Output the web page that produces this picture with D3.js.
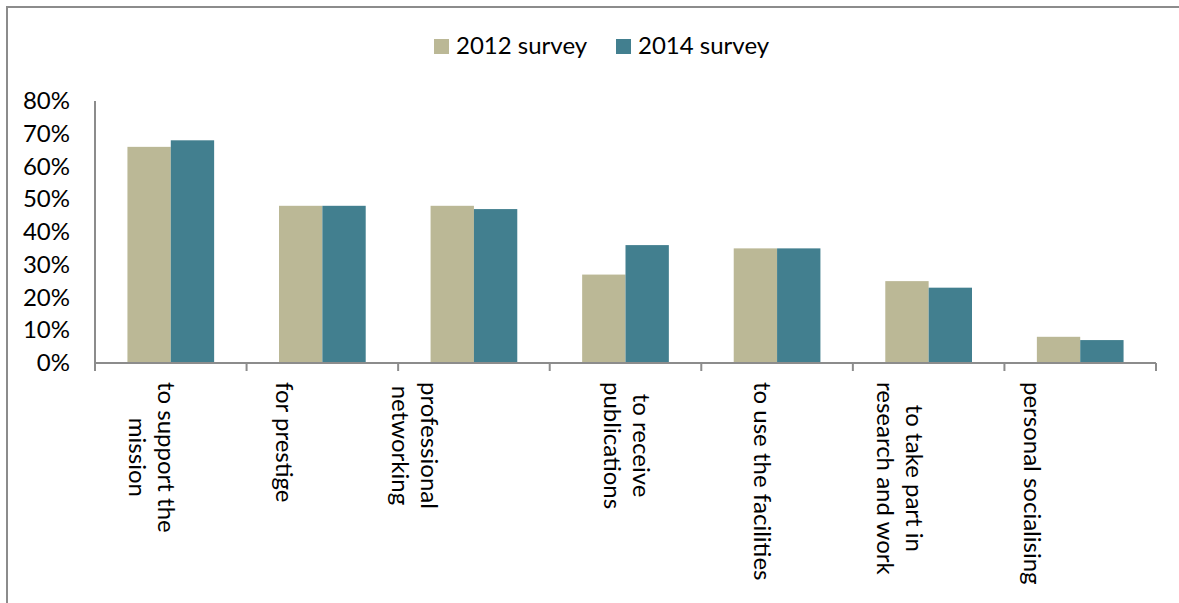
<!DOCTYPE html>
<html>
<head>
<meta charset="utf-8">
<script src="https://cdn.jsdelivr.net/npm/d3@7"></script>
<style>
  body { margin: 0; background: #fff; }
  svg text { font-family: Lato, "Open Sans", sans-serif; fill: #000; }
</style>
</head>
<body>
<svg id="chart"></svg>
<script>
// data
var categories = [
  ["to support the", "mission"],
  ["for prestige"],
  ["professional", "networking"],
  ["to receive", "publications"],
  ["to use the facilities"],
  ["to take part in", "research and work"],
  ["personal socialising"]
];
var seriesNames = ["2012 survey", "2014 survey"];
var survey2012 = [0.66, 0.48, 0.48, 0.27, 0.35, 0.25, 0.08];
var survey2014 = [0.68, 0.48, 0.47, 0.36, 0.35, 0.23, 0.07];
var yTicks = [0, 0.1, 0.2, 0.3, 0.4, 0.5, 0.6, 0.7, 0.8];

var colors = ["#bbb896", "#427f8f"];
// label nudges (px from band centre), excel puts them a bit off
var labelShift = [-18, -37, -58, 2, -14, -28, -47];

var width = 1179, height = 603;
var margin = {left: 95, right: 23, top: 101, bottom: 240};
var fontSize = 24;

var svg = d3.select("#chart")
    .attr("width", width)
    .attr("height", height);

// outer frame
svg.append("rect")
    .attr("x", 7).attr("y", 7)
    .attr("width", width + 20).attr("height", height + 20)
    .attr("fill", "none")
    .attr("stroke", "#8c8c8c")
    .attr("stroke-width", 2);

var x0 = d3.scaleBand()
    .domain(d3.range(categories.length))
    .range([margin.left, width - margin.right])
    .paddingInner(0.428)
    .paddingOuter(0.214);

var x1 = d3.scaleBand()
    .domain([0, 1])
    .range([0, x0.bandwidth()]);

var y = d3.scaleLinear()
    .domain([0, 0.8])
    .range([height - margin.bottom, margin.top]);

var baseY = y(0);

// bars
var values = [survey2012, survey2014];
values.forEach(function(vals, s) {
    svg.append("g").selectAll("rect")
        .data(vals)
        .enter()
        .append("rect")
        .attr("x", function(d, i) { return x0(i) + x1(s); })
        .attr("y", function(d) { return y(d); })
        .attr("width", x1.bandwidth())
        .attr("height", function(d) { return baseY - y(d); })
        .attr("fill", colors[s]);
});

// y axis
var yAxis = svg.append("g")
    .attr("transform", "translate(" + margin.left + ",0)")
    .call(d3.axisLeft(y).tickValues(yTicks).tickFormat(d3.format(".0%")).tickSize(0).tickPadding(25));
yAxis.select(".domain").remove();
yAxis.selectAll("text")
    .style("font-size", fontSize + "px")
    .style("font-family", "Lato, sans-serif")
    .attr("fill", "#000");
svg.append("line")
    .attr("x1", margin.left).attr("x2", margin.left)
    .attr("y1", margin.top).attr("y2", baseY + 7)
    .attr("stroke", "#8c8c8c").attr("stroke-width", 2);

// x axis line + ticks at band boundaries
var step = x0.step();
var bounds = d3.range(categories.length + 1).map(function(i) {
    return margin.left + i * step;
});
svg.append("line")
    .attr("x1", margin.left).attr("x2", width - margin.right)
    .attr("y1", baseY).attr("y2", baseY)
    .attr("stroke", "#8c8c8c").attr("stroke-width", 2);
svg.append("g").selectAll("line")
    .data(bounds)
    .enter()
    .append("line")
    .attr("x1", function(d) { return d; })
    .attr("x2", function(d) { return d; })
    .attr("y1", baseY).attr("y2", baseY + 8)
    .attr("stroke", "#8c8c8c").attr("stroke-width", 2);

// rotated category labels
var lineGap = 29;
categories.forEach(function(lines, i) {
    var cx = x0(i) + x0.bandwidth() / 2 + labelShift[i];
    var g = svg.append("g")
        .attr("transform", "translate(" + cx + "," + (baseY + 19) + ") rotate(90)");
    var texts = g.selectAll("text")
        .data(lines)
        .enter()
        .append("text")
        .style("font-size", fontSize + "px")
        .attr("text-anchor", "middle")
        .attr("dominant-baseline", "central")
        .text(function(d) { return d; });
    var maxW = d3.max(texts.nodes(), function(n) { return n.getComputedTextLength(); });
    var n = lines.length;
    texts.attr("x", maxW / 2)
        .attr("y", function(d, j) { return (j - (n - 1) / 2) * lineGap; });
});

// legend
var legendX = [434, 616];
var legend = svg.append("g");
seriesNames.forEach(function(name, s) {
    legend.append("rect")
        .attr("x", legendX[s]).attr("y", 39)
        .attr("width", 15).attr("height", 15)
        .attr("fill", colors[s]);
    legend.append("text")
        .attr("x", legendX[s] + 22).attr("y", 54)
        .style("font-size", fontSize + "px")
        .text(name);
});
</script>
</body>
</html>
